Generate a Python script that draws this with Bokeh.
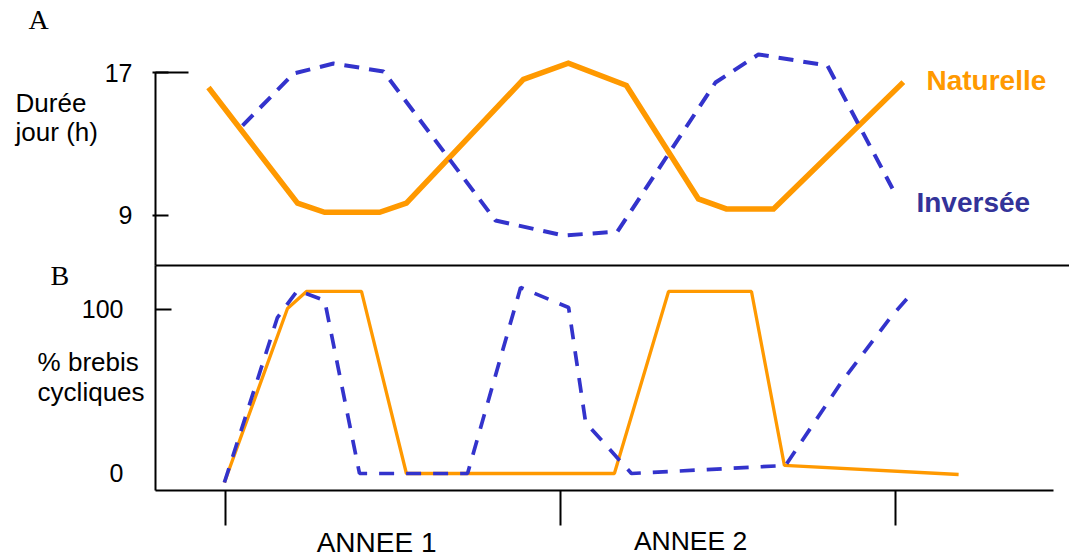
from bokeh.plotting import figure
from bokeh.models import Range1d, FixedTicker, Label, LinearAxis
from bokeh.embed import file_html
from bokeh.resources import INLINE

# ---- data (x in months from start of year 1) ----
year_ticks = [0, 12, 24]
year_labels = ["ANNEE 1", "ANNEE 2"]
series_names = ["Naturelle", "Inversée"]

# Panel A : day length (h)
nat_day_x = [-0.61, 2.58, 3.55, 5.52, 6.48, 10.67, 12.28, 14.36, 16.94, 17.94, 19.63, 24.28]
nat_day_h = [16.16, 9.69, 9.18, 9.18, 9.69, 16.61, 17.52, 16.27, 9.93, 9.37, 9.37, 16.46]
inv_day_x = [0.61, 2.44, 3.87, 5.66, 9.67, 12.11, 14.04, 17.55, 19.09, 21.56, 23.89]
inv_day_h = [14.03, 16.94, 17.50, 17.06, 8.72, 7.88, 8.10, 16.44, 18.01, 17.39, 10.51]
day_ticks = [9, 17]

# Panel B : % cyclic ewes
nat_cyc_x = [-0.04, 2.22, 2.90, 4.87, 6.48, 13.93, 15.87, 18.84, 20.02, 26.26]
nat_cyc_p = [-5.5, 100.6, 111, 111, 0, 0, 111, 111, 4.9, -0.6]
inv_cyc_x = [-0.04, 1.86, 2.58, 3.55, 4.80, 8.67, 10.57, 12.29, 12.90, 14.54, 20.06, 22.03, 23.82, 24.64]
inv_cyc_p = [-5.5, 95.1, 111.6, 105.5, 0, 0, 113.4, 101.2, 31.1, 0, 4.9, 54.9, 95.1, 111]
pct_ticks = [0, 100]

ORANGE = "#FF9900"
BLUE = "#3333CC"
NAVY = "#333399"
SANS = "Liberation Sans"
SERIF = "Liberation Serif"

# axis extents
X_LEFT = -2.507          # position of both value axes
X_RIGHT_A = 30.232
X_RIGHT_B = 29.66
H_BOTTOM = 6.203         # bottom of panel A (separator line)
P_BOTTOM = -10.37        # bottom of panel B

p = figure(width=1069, height=557,
           x_range=Range1d(-8.0597, 30.232), y_range=Range1d(-10.133, 21.028),
           x_axis_location=None, y_axis_location=None,
           output_backend="svg", toolbar_location=None,
           min_border_left=0, min_border_right=0, min_border_top=0, min_border_bottom=0)
p.extra_y_ranges = {"pct": Range1d(-51.22, 288.41)}
p.outline_line_color = None
p.grid.visible = False


def style_axis(ax):
    ax.axis_line_width = 2
    ax.axis_line_color = "black"
    ax.major_tick_line_width = 2
    ax.minor_tick_line_width = 2
    ax.major_label_text_font = SANS
    ax.major_label_text_font_size = "25px"
    ax.major_label_text_color = "black"


# ---- panel A axes ----
ya = LinearAxis(ticker=FixedTicker(ticks=day_ticks, minor_ticks=[17]),
                fixed_location=X_LEFT, bounds=(H_BOTTOM, 17))
style_axis(ya)
ya.major_tick_in = 13
ya.major_tick_out = 3
ya.minor_tick_in = 33
ya.minor_tick_out = 0
ya.major_label_standoff = 20
p.add_layout(ya, "left")

sep = LinearAxis(ticker=FixedTicker(ticks=[]), fixed_location=H_BOTTOM,
                 bounds=(X_LEFT, X_RIGHT_A))
style_axis(sep)
sep.major_tick_in = 0
sep.major_tick_out = 0
sep.minor_tick_in = 0
sep.minor_tick_out = 0
p.add_layout(sep, "below")

# ---- panel B axes ----
yb = LinearAxis(ticker=FixedTicker(ticks=pct_ticks, minor_ticks=[100]), y_range_name="pct",
                fixed_location=X_LEFT, bounds=(P_BOTTOM, 126.83))
style_axis(yb)
yb.major_tick_line_color = None
yb.major_tick_in = 0
yb.major_tick_out = 0
yb.minor_tick_in = 16
yb.minor_tick_out = 0
yb.major_label_standoff = 32
p.add_layout(yb, "left")

xb = LinearAxis(ticker=FixedTicker(ticks=year_ticks), y_range_name="pct",
                fixed_location=P_BOTTOM, bounds=(X_LEFT, X_RIGHT_B))
style_axis(xb)
xb.major_tick_in = 0
xb.major_tick_out = 35
xb.minor_tick_in = 0
xb.minor_tick_out = 0
xb.major_label_overrides = {t: "" for t in year_ticks}
xb.major_label_text_font_size = "0px"
xb.major_label_standoff = 0
p.add_layout(xb, "below")

# ---- series ----
p.line(nat_day_x, nat_day_h, line_color=ORANGE, line_width=5.5, line_join="miter")
p.line(inv_day_x, inv_day_h, line_color=BLUE, line_width=4, line_dash="15 10")
p.line(nat_cyc_x, nat_cyc_p, y_range_name="pct", line_color=ORANGE, line_width=3.3)
p.line(inv_cyc_x, inv_cyc_p, y_range_name="pct", line_color=BLUE, line_width=3.7,
       line_dash="15 12")

# ---- texts ----
p.add_layout(Label(x=-7.06, y=19.97, text="A", text_font=SERIF, text_font_size="28px",
                   text_color="black", text_baseline="alphabetic"))
p.add_layout(Label(x=-7.52, y=14.49, text="Durée\njour (h)", text_font=SANS,
                   text_font_size="26px", text_color="black", text_baseline="alphabetic",
                   text_line_height=0.97))
p.add_layout(Label(x=25.11, y=16.55, text=series_names[0], text_font=SANS,
                   text_font_size="28px", text_font_style="bold", text_color=ORANGE,
                   text_baseline="alphabetic"))
p.add_layout(Label(x=24.75, y=9.73, text=series_names[1], text_font=SANS,
                   text_font_size="28px", text_font_style="bold", text_color=NAVY,
                   text_baseline="alphabetic"))

p.add_layout(Label(x=-6.27, y=120.7, y_range_name="pct", text="B", text_font=SERIF,
                   text_font_size="28px", text_color="black", text_baseline="alphabetic"))
p.add_layout(Label(x=-6.73, y=58.6, y_range_name="pct", text="% brebis\ncycliques",
                   text_font=SANS, text_font_size="26px", text_color="black",
                   text_baseline="alphabetic", text_line_height=1.0))
p.add_layout(Label(x=5.41, y=-42.1, y_range_name="pct", text=year_labels[0], text_font=SANS,
                   text_font_size="28px", text_color="black", text_align="center",
                   text_baseline="alphabetic"))
p.add_layout(Label(x=16.66, y=-40.9, y_range_name="pct", text=year_labels[1], text_font=SANS,
                   text_font_size="26.5px", text_color="black", text_align="center",
                   text_baseline="alphabetic"))

open("out.html", "w").write(file_html(p, INLINE))
